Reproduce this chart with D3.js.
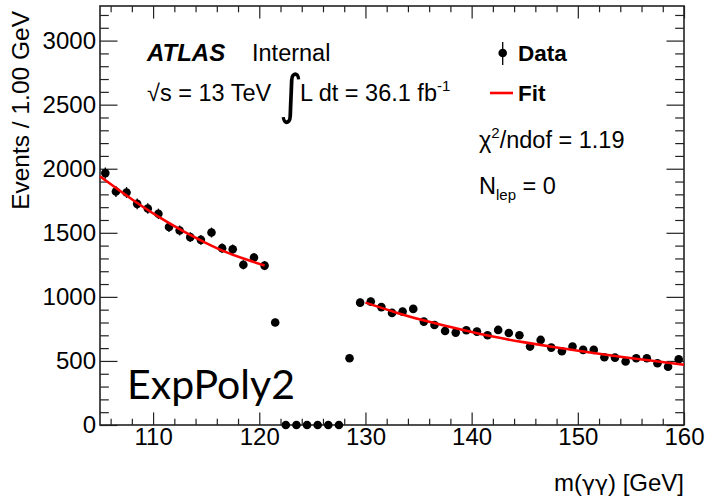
<!DOCTYPE html>
<html><head><meta charset="utf-8">
<script src="https://cdn.jsdelivr.net/npm/d3@7"></script>
<style>
body{margin:0;background:#fff}
svg{display:block;font-family:"Liberation Sans",Arial,Helvetica,sans-serif}
</style>
</head><body>
<svg id="c" width="711" height="498"></svg>
<script>
// ---- data ----
const massBins = [105.5,106.5,107.5,108.5,109.5,110.5,111.5,112.5,113.5,114.5,115.5,116.5,117.5,118.5,119.5,120.5,121.5,
  122.5,123.5,124.5,125.5,126.5,127.5,
  128.5,129.5,130.5,131.5,132.5,133.5,134.5,135.5,136.5,137.5,138.5,139.5,140.5,141.5,142.5,143.5,144.5,145.5,146.5,147.5,
  148.5,149.5,150.5,151.5,152.5,153.5,154.5,155.5,156.5,157.5,158.5,159.5];
const events = [1966,1822,1815,1726,1689,1648,1545,1518,1466,1445,1502,1380,1372,1250,1307,1244,800,
  0,0,0,0,0,0,
  521,955,963,920,875,885,906,807,781,734,721,739,729,700,742,718,700,612,664,604,
  575,612,586,586,529,526,495,521,521,482,455,513];
const fitLowMass = [105,107,109,111,113,115,117,119,120.5];
const fitLowVal  = [1940,1820,1705,1600,1505,1420,1345,1285,1245];
const fitHighMass = [130,133,136,139,142,145,148,151,154,157,160];
const fitHighVal  = [955,875,805,745,690,645,605,568,533,502,470];
const xMajorTicks = [110,120,130,140,150,160];
const xMinorTicks = [106,108,112,114,116,118,122,124,126,128,132,134,136,138,142,144,146,148,152,154,156,158];
const yMajorTicks = [0,500,1000,1500,2000,2500,3000];
const yMinorTicks = [100,200,300,400,600,700,800,900,1100,1200,1300,1400,1600,1700,1800,1900,2100,2200,2300,2400,2600,2700,2800,2900,3100,3200];

// ---- layout ----
const L=100, R=684, T=6, B=425;
const svg = d3.select("#c");
const x = d3.scaleLinear().domain([105,160]).range([L,R]);
const y = d3.scaleLinear().domain([0,3270]).range([B,T]);
const axisCol = "#222";
const SANS = '"Liberation Sans",Arial,sans-serif';

function styleAxis(g){
  g.select(".domain").remove();
  g.selectAll(".tick line").attr("stroke",axisCol).attr("stroke-width",1.2);
  g.selectAll(".tick text").style("font-size","24px").style("font-family",SANS).attr("fill","#000");
}
const majX=12.6, minX=6.3, majY=17.5, minY=8.8;
svg.append("g").attr("transform",`translate(0,${B})`)
  .call(d3.axisBottom(x).tickValues(xMajorTicks).tickSize(-majX).tickPadding(3).tickFormat(d3.format("d"))).call(styleAxis);
svg.append("g").attr("transform",`translate(0,${B})`)
  .call(d3.axisBottom(x).tickValues(xMinorTicks).tickSize(-minX).tickFormat("")).call(styleAxis);
svg.append("g").attr("transform",`translate(0,${T})`)
  .call(d3.axisTop(x).tickValues(xMajorTicks).tickSize(-majX).tickFormat("")).call(styleAxis);
svg.append("g").attr("transform",`translate(0,${T})`)
  .call(d3.axisTop(x).tickValues(xMinorTicks).tickSize(-minX).tickFormat("")).call(styleAxis);
svg.append("g").attr("transform",`translate(${L},0)`)
  .call(d3.axisLeft(y).tickValues(yMajorTicks).tickSize(-majY).tickPadding(4).tickFormat(d3.format("d"))).call(styleAxis);
svg.append("g").attr("transform",`translate(${L},0)`)
  .call(d3.axisLeft(y).tickValues(yMinorTicks).tickSize(-minY).tickFormat("")).call(styleAxis);
svg.append("g").attr("transform",`translate(${R},0)`)
  .call(d3.axisRight(y).tickValues(yMajorTicks).tickSize(-majY).tickFormat("")).call(styleAxis);
svg.append("g").attr("transform",`translate(${R},0)`)
  .call(d3.axisRight(y).tickValues(yMinorTicks).tickSize(-minY).tickFormat("")).call(styleAxis);

svg.append("rect").attr("x",L).attr("y",T).attr("width",R-L).attr("height",B-T)
  .attr("fill","none").attr("stroke",axisCol).attr("stroke-width",1.6);

function txt(xp,yp,size,s){
  return svg.append("text").attr("x",xp).attr("y",yp).style("font-size",size+"px").style("font-family",SANS).text(s);
}

// axis titles
svg.append("text").attr("transform","translate(29,11) rotate(-90)").attr("text-anchor","end")
  .style("font-size","24.5px").style("font-family",SANS).text("Events / 1.00 GeV");
const xt = svg.append("text").attr("x",684).attr("y",491).attr("text-anchor","end")
  .style("font-size","24px").style("font-family",SANS);
xt.append("tspan").text("m(");
xt.append("tspan").style("font-family","'DejaVu Sans',sans-serif").style("font-size","22px").text("γγ");
xt.append("tspan").text(") [GeV]");

// data points
const pts = massBins.map((m,i)=>({m, v:events[i]}));
const gp = svg.append("g");
gp.selectAll("line.err").data(pts).join("line").attr("class","err")
  .attr("x1",d=>x(d.m)).attr("x2",d=>x(d.m))
  .attr("y1",d=>y(d.v-Math.sqrt(d.v))).attr("y2",d=>y(d.v+Math.sqrt(d.v)))
  .attr("stroke","#000").attr("stroke-width",1.3);
gp.selectAll("circle").data(pts).join("circle")
  .attr("cx",d=>x(d.m)).attr("cy",d=>y(d.v)).attr("r",4.3).attr("fill","#000");

// fit
const line = d3.line().x(d=>x(d[0])).y(d=>y(d[1])).curve(d3.curveNatural);
[[fitLowMass,fitLowVal],[fitHighMass,fitHighVal]].forEach(([ms,vs])=>{
  svg.append("path").datum(ms.map((m,i)=>[m,vs[i]])).attr("d",line)
    .attr("fill","none").attr("stroke","#ff0000").attr("stroke-width",2.6);
});

// ATLAS label
txt(147,61,24,"ATLAS").style("font-weight","bold").style("font-style","italic");
txt(252,61,23.5,"Internal");
txt(147,101,23.5,"√s = 13 TeV");
svg.append("text").attr("transform","translate(279,113) scale(0.85,1)").style("font-size","54px")
  .style("font-family","'DejaVu Sans',sans-serif").text("∫");
const lum = txt(300,101,23.5,"");
lum.append("tspan").text("L dt = 36.1 fb");
lum.append("tspan").style("font-size","15px").attr("dy",-10).text("-1");

// legend
svg.append("line").attr("x1",502.7).attr("x2",502.7).attr("y1",42).attr("y2",65).attr("stroke","#000").attr("stroke-width",1.3);
svg.append("circle").attr("cx",502.7).attr("cy",53).attr("r",4.3).attr("fill","#000");
txt(518,61,22.5,"Data").style("font-weight","bold");
svg.append("line").attr("x1",490).attr("x2",513).attr("y1",93).attr("y2",93).attr("stroke","#ff0000").attr("stroke-width",2.6);
txt(518,101,22.5,"Fit").style("font-weight","bold");

const chi = txt(479,148,23.5,"");
chi.append("tspan").text("χ");
chi.append("tspan").style("font-size","15px").attr("dy",-10).text("2");
chi.append("tspan").attr("dy",10).text("/ndof = 1.19");
const nl = txt(479,194,23.5,"");
nl.append("tspan").text("N");
nl.append("tspan").style("font-size","15px").attr("dy",6).text("lep");
nl.append("tspan").attr("dy",-6).text(" = 0");

// method label
svg.append("text").attr("x",127).attr("y",399).style("font-size","40px")
  .style("font-family","Lato,'Open Sans',sans-serif")
  .attr("textLength",168).attr("lengthAdjust","spacingAndGlyphs").text("ExpPoly2");
</script>
</body></html>
